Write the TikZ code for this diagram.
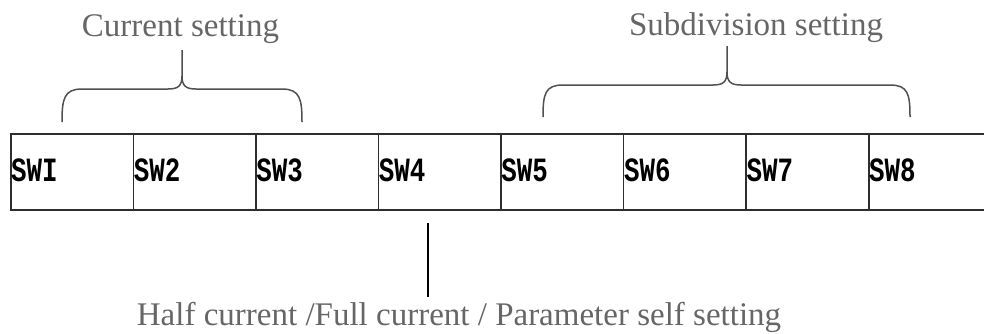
\documentclass[tikz,border=0pt]{standalone}
\usepackage{fontspec}
\setmainfont{Liberation Serif}
\newfontfamily\swfont{Liberation Mono}[FakeStretch=0.76]
\definecolor{labelgray}{HTML}{666666}
\definecolor{bracegray}{HTML}{505050}
\definecolor{boxline}{HTML}{2E2E2E}
\tikzset{
  swcell/.style={draw=boxline, line width=1.5pt, minimum width=122.57pt,
    minimum height=76pt, inner sep=0pt, anchor=north west},
  swtext/.style={font=\swfont\bfseries\fontsize{34}{34}\selectfont,
    anchor=base west, inner sep=0pt, text=black},
  caption/.style={font=\fontsize{33}{33}\selectfont, text=labelgray,
    anchor=base, inner sep=0pt},
  bracket/.style={draw=bracegray, line width=1.5pt},
  tick/.style={draw=black, line width=1.6pt}
}
\begin{document}
\begin{tikzpicture}[x=1pt,y=-1pt]
\useasboundingbox (0,0) rectangle (984,333);
\clip (0,0) rectangle (984,333);

% row of eight switch cells
\foreach \i in {1,...,8} {
  \node[swcell] (c\i) at ({10+(\i-1)*122.57},133) {};
}
\node[swtext] (s1) at ([xshift=1pt]c1.west |- 0,181) {SWI};
\foreach \i in {2,...,8} {
  \node[swtext] (s\i) at ([xshift=1pt]c\i.west |- 0,181) {SW\i};
}

% captions
\node[caption] (cur) at (180.5,36) {Current setting};
\node[caption] (sub) at (756,35) {Subdivision setting};
\node[caption] (half) at (459,325) {Half current /Full current / Parameter self setting};

% brace over SW1--SW3
\coordinate (la) at (62,122);
\coordinate (lb) at (302,122);
\coordinate (lt) at (182,50);
\draw[bracket] (la) .. controls (62,99) and (64,89) .. (82,89) -- (168,89)
  .. controls (178,89) and (182,86) .. (182,76) -- (lt);
\draw[bracket] (lb) .. controls (302,99) and (300,89) .. (282,89) -- (196,89)
  .. controls (186,89) and (182,86) .. (182,76);

% brace over SW5--SW8
\coordinate (ra) at (543,117);
\coordinate (rb) at (910,117);
\coordinate (rt) at (727,46);
\draw[bracket] (ra) .. controls (543,94) and (545,85) .. (563,85) -- (713,85)
  .. controls (723,85) and (727,82) .. (727,72) -- (rt);
\draw[bracket] (rb) .. controls (910,94) and (908,85) .. (890,85) -- (741,85)
  .. controls (731,85) and (727,82) .. (727,72);

% pointer from SW4 down to its caption
\coordinate (pt) at (428,223);
\coordinate (pb) at (428,297);
\draw[tick] (pt) -- (pb);
\end{tikzpicture}
\end{document}
